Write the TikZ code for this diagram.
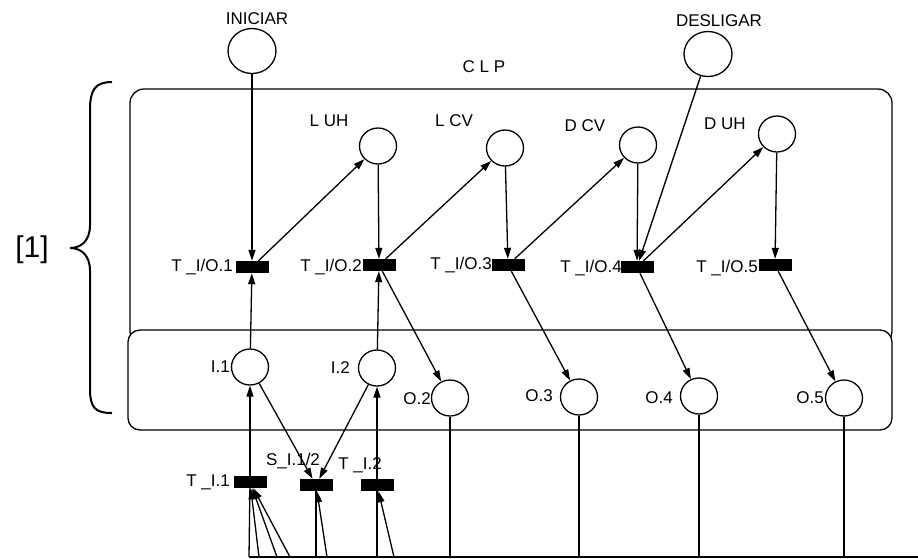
\documentclass[tikz,border=0pt]{standalone}
\usepackage{fontspec}
\setmainfont{Liberation Sans}
\usetikzlibrary{arrows.meta,shapes.geometric}
\begin{document}
\begin{tikzpicture}[x=1pt,y=-1pt,
  place/.style={draw, line width=1.3pt, ellipse, minimum width=37pt, minimum height=36pt, inner sep=0pt},
  bigplace/.style={place, minimum width=48pt, minimum height=45pt},
  trans/.style={fill=black, minimum width=33pt, minimum height=12pt, inner sep=0pt},
  lbl/.style={font=\fontsize{17}{20}\selectfont, inner sep=0pt},
  arc/.style={line width=1.3pt, -{Triangle[length=11pt,width=7pt]}},
  plain/.style={line width=1.3pt},
  box/.style={draw, line width=1.3pt, rounded corners=14pt}
]
\useasboundingbox (0,0) rectangle (918,558);
\draw[box] (130,89) rectangle (892,345);
\draw[box, fill=white, rounded corners=12pt] (128,330) rectangle (892,430);
\draw[line width=2pt] (112,82) .. controls (95,82) and (90,90) .. (90,110) -- (90,225)
  .. controls (90,242) and (80,248) .. (70,248)
  .. controls (80,248) and (90,254) .. (90,271) -- (90,388)
  .. controls (90,408) and (95,413) .. (112,413);
% labels
\node[lbl] (lini) at (257,19) {INICIAR};
\node[lbl] (ldes) at (719,21) {DESLIGAR};
\node[lbl] (lclp) at (484,67) {C L P};
\node[lbl] (lluh) at (329,121) {L UH};
\node[lbl] (llcv) at (454,121) {L CV};
\node[lbl] (ldcv) at (585,126) {D CV};
\node[lbl] (lduh) at (725,124) {D UH};
\node[lbl, anchor=east] (lt1) at (233,267) {T \_I/O.1};
\node[lbl, anchor=east] (lt2) at (362,267) {T \_I/O.2};
\node[lbl, anchor=east] (lt3) at (492,265) {T \_I/O.3};
\node[lbl, anchor=east] (lt4) at (622,268) {T \_I/O.4};
\node[lbl, anchor=east] (lt5) at (758,268) {T \_I/O.5};
\node[lbl, anchor=east] (li1) at (230,367) {I.1};
\node[lbl, anchor=east] (li2) at (350,368) {I.2};
\node[lbl, anchor=east] (lo2) at (431,399) {O.2};
\node[lbl, anchor=east] (lo3) at (553,396) {O.3};
\node[lbl, anchor=east] (lo4) at (673,398) {O.4};
\node[lbl, anchor=east] (lo5) at (824,398) {O.5};
\node[lbl, anchor=east] (lti1) at (230,482) {T \_I.1};
\node[lbl] (ls12) at (293,461) {S\_I.1/2};
\node[lbl] (lti2) at (360,465) {T \_I.2};
\node[font=\fontsize{30}{34}\selectfont, inner sep=0pt] (lone) at (32,250) {[1]};
% places and transitions
\node[bigplace] (ini) at (252,51) {};
\node[bigplace] (des) at (708,54) {};
\node[place] (luh) at (378,146) {};
\node[place] (lcv) at (505,148) {};
\node[place] (dcv) at (638,145) {};
\node[place] (duh) at (777,134) {};
\node[trans] (t1) at (252,267) {};
\node[trans] (t2) at (379,265) {};
\node[trans] (t3) at (508,265) {};
\node[trans] (t4) at (637,267) {};
\node[trans] (t5) at (775,265) {};
\node[place] (i1) at (250,367) {};
\node[place] (i2) at (377,368) {};
\node[place] (o2) at (450,398) {};
\node[place] (o3) at (579,397) {};
\node[place] (o4) at (699,396) {};
\node[place] (o5) at (844,398) {};
\node[trans] (ti1) at (250,482) {};
\node[trans] (s12) at (316,485) {};
\node[trans] (ti2) at (377,485) {};
% arcs
\draw[arc] (ini) -- (t1);
\draw[arc] (t1) -- (luh);
\draw[arc] (luh) -- (t2);
\draw[arc] (t2) -- (lcv);
\draw[arc] (lcv) -- (t3);
\draw[arc] (t3) -- (dcv);
\draw[arc] (dcv) -- (t4);
\draw[arc] (des) -- (t4);
\draw[arc] (t4) -- (duh);
\draw[arc] (duh) -- (t5);
\draw[arc] (t2) -- (o2);
\draw[arc] (t3) -- (o3);
\draw[arc] (t4) -- (o4);
\draw[arc] (t5) -- (o5);
\draw[arc] (i1) -- (t1);
\draw[arc] (i2) -- (t2);
\draw[arc] (i1) -- (s12);
\draw[arc] (i2) -- (s12);
\draw[arc] (ti1) -- (i1);
\draw[arc] (ti2) -- (i2);
% bus
\coordinate (b0) at (249,557);
\coordinate (bend) at (918,557);
\coordinate (b2) at (259,557);
\coordinate (b3) at (277,557);
\coordinate (b4) at (290,557);
\coordinate (b5) at (316,557);
\coordinate (b6) at (327,557);
\coordinate (b7) at (377,557);
\coordinate (b8) at (394,557);
\draw[plain] (b0) -- (bend);
\draw[plain] (b0) -- (ti1);
\draw[arc] (b2) -- (ti1);
\draw[arc] (b3) -- (ti1);
\draw[arc] (b4) -- (ti1);
\draw[plain] (b5) -- (s12);
\draw[arc] (b6) -- (s12);
\draw[plain] (b7) -- (ti2);
\draw[arc] (b8) -- (ti2);
\draw[plain] (o2.south) -- (o2.south |- b0);
\draw[plain] (o3.south) -- (o3.south |- b0);
\draw[plain] (o4.south) -- (o4.south |- b0);
\draw[plain] (o5.south) -- (o5.south |- b0);
\end{tikzpicture}
\end{document}
